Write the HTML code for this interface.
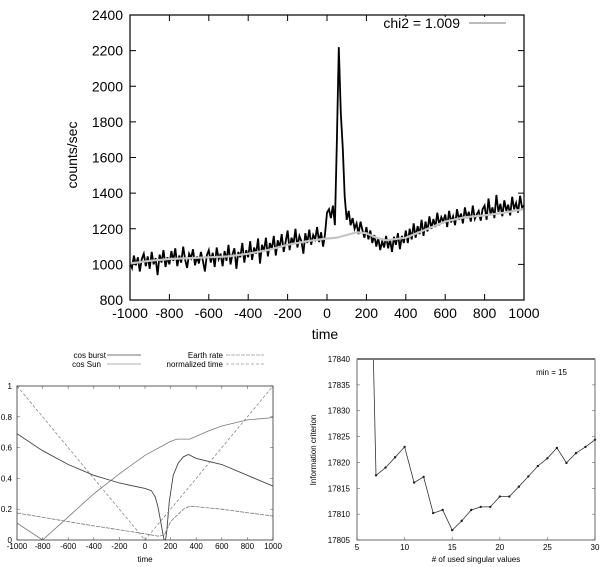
<!DOCTYPE html>
<html><head><meta charset="utf-8"><style>
body{margin:0;background:#fff}
svg{display:block}
text{font-family:"Liberation Sans",sans-serif;fill:#000}
</style></head><body>
<svg id="c" width="600" height="567" viewBox="0 0 600 567" xmlns="http://www.w3.org/2000/svg"></svg>
<script>
// ---- top chart data ----
const topXTicks=[-1000,-800,-600,-400,-200,0,200,400,600,800,1000];
const topYTicks=[800,1000,1200,1400,1600,1800,2000,2200,2400];
const obsStart=-1000, obsStep=10;
const obsCounts=[1010,980,1050,995,1040,960,1030,1060,990,1045,975,1070,1000,1035,940,1055,1010,1080,985,1040,
1000,1075,1020,1090,990,1050,1010,1100,1025,980,1060,1035,1085,995,1045,1005,1070,1020,960,1050,
1080,1010,1065,985,1095,1030,1060,990,1075,1020,1110,1000,1055,1090,975,1070,1040,1120,1010,1080,
1040,1130,1025,1095,1060,1145,1005,1110,1075,1150,1045,1120,1085,1160,1050,1135,1095,1170,1070,1125,
1190,1080,1150,1115,1200,1095,1160,1130,1060,1175,1120,1195,1110,1165,1140,1210,1125,1180,1100,1170,
1290,1310,1260,1330,1220,1700,2220,1850,1650,1380,1250,1300,1220,1260,1200,1230,1170,1240,1190,1150,
1210,1140,1190,1120,1165,1100,1150,1080,1130,1095,1160,1090,1140,1070,1155,1110,1175,1085,1160,1120,
1190,1120,1200,1140,1230,1150,1215,1170,1250,1160,1240,1185,1270,1200,1255,1210,1290,1220,1265,1240,
1280,1210,1300,1235,1270,1220,1310,1250,1285,1230,1320,1260,1295,1240,1330,1255,1280,1300,1245,1310,
1330,1250,1370,1280,1320,1260,1390,1295,1340,1270,1360,1300,1335,1275,1380,1310,1345,1290,1385,1320,1330];
const modelT=[-1000,-900,-800,-700,-600,-500,-400,-300,-200,-100,0,50,100,150,200,250,300,400,500,600,700,800,900,1000];
const modelV=[1005,1020,1030,1035,1040,1045,1060,1080,1110,1130,1145,1150,1165,1180,1175,1150,1135,1150,1195,1240,1265,1275,1290,1310];
// ---- bottom-left data ----
const blXTicks=[-1000,-800,-600,-400,-200,0,200,400,600,800,1000];
const blYTicks=[0,0.2,0.4,0.6,0.8,1];
const blYLabels=["0","0.2","0.4","0.6","0.8","1"];
const burstT=[-1000,-800,-600,-400,-200,0,50,80,100,120,140,150,160,170,190,220,260,300,340,400,600,800,1000];
const burstV=[0.69,0.58,0.49,0.42,0.37,0.335,0.32,0.28,0.22,0.13,0.04,0,0,0.06,0.25,0.42,0.5,0.54,0.555,0.53,0.49,0.42,0.35];
const sunT=[-1000,-800,-600,-400,-200,0,200,250,350,500,600,800,1000];
const sunV=[0.11,0,0.15,0.3,0.43,0.55,0.64,0.655,0.655,0.71,0.74,0.78,0.795];
const earthT=[-1000,-500,0,100,150,200,300,350,600,1000];
const earthV=[0.175,0.105,0.04,0.025,0.03,0.12,0.2,0.22,0.2,0.155];
const normT=[-1000,0,1000];
const normV=[1,0,1];
// ---- bottom-right data ----
const brXTicks=[5,10,15,20,25,30];
const brYTicks=[17805,17810,17815,17820,17825,17830,17835,17840];
const nSV=[6,7,8,9,10,11,12,13,14,15,16,17,18,19,20,21,22,23,24,25,26,27,28,29,30];
const icV=[17900,17817.5,17819.0,17821.0,17823.0,17816.1,17817.2,17810.2,17810.8,17806.9,17808.7,17810.8,17811.4,17811.4,17813.4,17813.4,17815.3,17817.3,17819.3,17820.8,17822.8,17819.9,17821.8,17823.0,17824.4];

const NS="http://www.w3.org/2000/svg";
const svg=document.getElementById('c');
function mk(tag,attrs,parent,txt){const e=document.createElementNS(NS,tag);for(const k in attrs)e.setAttribute(k,attrs[k]);if(txt!==undefined)e.textContent=txt;(parent||svg).appendChild(e);return e;}
function lin(d0,d1,r0,r1){return v=>r0+(v-d0)*(r1-r0)/(d1-d0);}

// ===== TOP =====
const tx=lin(-1000,1000,130,524), ty=lin(800,2400,300,15);
const gTop=mk('g',{});


mk('defs',{}).innerHTML='<clipPath id="cpT"><rect x="130" y="15" width="394" height="285"/></clipPath><clipPath id="cpL"><rect x="17" y="386" width="256" height="154"/></clipPath><clipPath id="cpR"><rect x="357" y="359" width="238" height="181"/></clipPath>';
topYTicks.forEach(v=>{
  const t=mk('text',{x:123,y:ty(v)+5,'text-anchor':'end','font-size':14},gTop,String(v));
  
  
  mk('line',{x1:130,x2:136,y1:ty(v),y2:ty(v),stroke:'#000'},gTop);
  mk('line',{x1:518,x2:524,y1:ty(v),y2:ty(v),stroke:'#000'},gTop);
});
topXTicks.forEach(v=>{
  const t=mk('text',{x:tx(v),y:318,'text-anchor':'middle','font-size':14},gTop,String(v));
  
  
  mk('line',{x1:tx(v),x2:tx(v),y1:300,y2:294,stroke:'#000'},gTop);
  mk('line',{x1:tx(v),x2:tx(v),y1:15,y2:21,stroke:'#000'},gTop);
});
let p='';obsCounts.forEach((v,i)=>{p+=(i?'L':'M')+tx(obsStart+i*obsStep).toFixed(1)+' '+ty(v).toFixed(1);});
const obs=mk('path',{d:p,fill:'none',stroke:'#000','stroke-width':1.8,'stroke-linejoin':'miter','clip-path':'url(#cpT)'},gTop);


p='';modelT.forEach((t,i)=>{p+=(i?'L':'M')+tx(t).toFixed(1)+' '+ty(modelV[i]).toFixed(1);});
const mod=mk('path',{d:p,fill:'none',stroke:'#c4c4c4','stroke-width':2.2,'stroke-linejoin':'round'},gTop);


const fr=mk('rect',{x:130,y:15,width:394,height:285,fill:'none',stroke:'#000','stroke-width':1.2},gTop);


mk('rect',{x:380,y:17,width:138,height:14,fill:'#fff'},gTop);
const lg=mk('text',{x:460,y:28,'text-anchor':'end','font-size':14},gTop,'chi2 = 1.009');


const ll=mk('line',{x1:469,x2:506,y1:23,y2:23,stroke:'#bbb','stroke-width':2},gTop);


const yl=mk('text',{x:0,y:0,'text-anchor':'middle','font-size':14,transform:'translate(77,155) rotate(-90)'},gTop,'counts/sec');


const xl=mk('text',{x:325,y:339,'text-anchor':'middle','font-size':14},gTop,'time');



// ===== BOTTOM LEFT =====
const lx=lin(-1000,1000,17,273), ly=lin(0,1,540,386);
const gL=mk('g',{});


blYTicks.forEach((v,i)=>{
  const t=mk('text',{x:12,y:ly(v)+3,'text-anchor':'end','font-size':8,fill:'#333'},gL,blYLabels[i]);
  
  
  mk('line',{x1:17,x2:20,y1:ly(v),y2:ly(v),stroke:'#666','stroke-width':0.6},gL);
  mk('line',{x1:270,x2:273,y1:ly(v),y2:ly(v),stroke:'#666','stroke-width':0.6},gL);
});
blXTicks.forEach(v=>{
  const t=mk('text',{x:lx(v),y:549,'text-anchor':'middle','font-size':8,fill:'#333'},gL,String(v));
  
  
  mk('line',{x1:lx(v),x2:lx(v),y1:540,y2:537,stroke:'#666','stroke-width':0.6},gL);
  mk('line',{x1:lx(v),x2:lx(v),y1:386,y2:389,stroke:'#666','stroke-width':0.6},gL);
});
function series(T,V,style,name){let d='';T.forEach((t,i)=>{d+=(i?'L':'M')+lx(t).toFixed(1)+' '+ly(V[i]).toFixed(1);});
  const e=mk('path',Object.assign({d:d,fill:'none','clip-path':'url(#cpL)'},style),gL);
  
  }
series(burstT,burstV,{stroke:'#444','stroke-width':0.9},'cos-burst-line');
series(sunT,sunV,{stroke:'#777','stroke-width':0.8},'cos-sun-line');
series(earthT,earthV,{stroke:'#777','stroke-width':0.8,'stroke-dasharray':'4 1'},'earth-rate-line');
series(normT,normV,{stroke:'#888','stroke-width':0.8,'stroke-dasharray':'3 2'},'normalized-time-line');
const fl=mk('rect',{x:17,y:386,width:256,height:154,fill:'none',stroke:'#333','stroke-width':0.8},gL);


[['cos burst',106,355,107,141,{stroke:'#444'}],['cos Sun',101,364,107,141,{stroke:'#999'}],['Earth rate',223,355,226,264,{stroke:'#999','stroke-dasharray':'4 1'}],['normalized time',223,364,226,264,{stroke:'#999','stroke-dasharray':'3 2'}]].forEach(a=>{
  const t=mk('text',{x:a[1],y:a[2]+3,'text-anchor':'end','font-size':8,fill:'#333'},gL,a[0]);
  
  
  const l=mk('line',Object.assign({x1:a[3],x2:a[4],y1:a[2],y2:a[2],'stroke-width':0.8},a[5]),gL);
  
  
});
const xl2=mk('text',{x:145,y:562,'text-anchor':'middle','font-size':8,fill:'#333'},gL,'time');



// ===== BOTTOM RIGHT =====
const rx=lin(5,30,357,595), ry=lin(17805,17840,540,359);
const gR=mk('g',{});


brYTicks.forEach(v=>{
  const t=mk('text',{x:350,y:ry(v)+3,'text-anchor':'end','font-size':8,fill:'#333'},gR,String(v));
  
  
  mk('line',{x1:357,x2:360,y1:ry(v),y2:ry(v),stroke:'#666','stroke-width':0.6},gR);
  mk('line',{x1:592,x2:595,y1:ry(v),y2:ry(v),stroke:'#666','stroke-width':0.6},gR);
});
brXTicks.forEach(v=>{
  const t=mk('text',{x:rx(v),y:550,'text-anchor':'middle','font-size':8,fill:'#333'},gR,String(v));
  
  
  mk('line',{x1:rx(v),x2:rx(v),y1:540,y2:537,stroke:'#666','stroke-width':0.6},gR);
});
p='';nSV.forEach((n,i)=>{p+=(i?'L':'M')+rx(n).toFixed(1)+' '+ry(icV[i]).toFixed(1);});
const icl=mk('path',{d:p,fill:'none',stroke:'#333','stroke-width':0.8,'clip-path':'url(#cpR)'},gR);


nSV.forEach((n,i)=>{if(icV[i]<=17840){const c=mk('circle',{cx:rx(n),cy:ry(icV[i]),r:1.2,fill:'#222'},gR);
  
  }});
const frr=mk('rect',{x:357,y:359,width:238,height:181,fill:'none',stroke:'#444','stroke-width':0.8},gR);


mk('line',{x1:357,x2:595,y1:359,y2:359,stroke:'#777','stroke-width':2},gR);
const mn=mk('text',{x:567,y:375,'text-anchor':'end','font-size':8,fill:'#333'},gR,'min = 15');


const yl3=mk('text',{x:0,y:0,'text-anchor':'middle','font-size':8,fill:'#333',transform:'translate(316,450) rotate(-90)'},gR,'Information criterion');


const xl3=mk('text',{x:476,y:562,'text-anchor':'middle','font-size':8,fill:'#333'},gR,'# of used singular values');


</script>
</body></html>
